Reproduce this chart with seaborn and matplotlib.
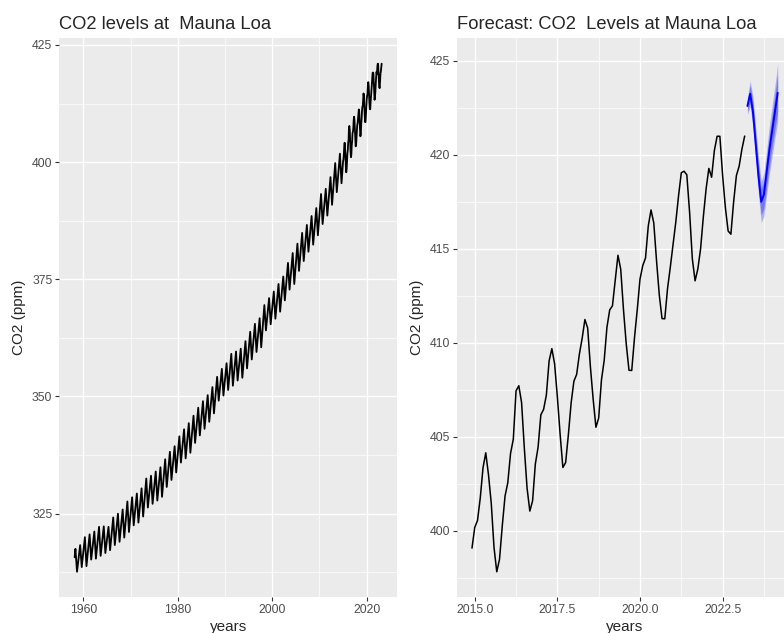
import numpy as np
import pandas as pd
import matplotlib
matplotlib.use("Agg")
import matplotlib.pyplot as plt
import seaborn as sns

# Mauna Loa CO2 (ppm), 1958-2014: yearly May peak and Sep trough
early_years = list(range(1958, 2015))
may_peak = [317.5, 318.3, 320.0, 320.6, 321.2, 322.2, 322.3, 322.2, 324.2, 325.0,
            325.9, 327.6, 328.5, 329.3, 330.4, 332.5, 333.1, 334.0, 334.9, 336.6,
            338.2, 339.4, 341.5, 343.0, 344.3, 345.9, 347.6, 349.0, 350.3, 352.0,
            354.2, 355.9, 357.1, 359.1, 359.6, 360.2, 361.8, 363.8, 365.5, 366.7,
            369.5, 371.0, 372.4, 374.0, 375.6, 378.5, 380.6, 382.6, 384.9, 386.6,
            388.5, 390.2, 393.2, 394.3, 396.8, 399.8, 401.8]
sep_trough = [312.6, 313.6, 313.8, 315.2, 315.4, 316.0, 316.6, 317.2, 318.3, 319.0,
              319.9, 321.1, 322.5, 323.1, 324.4, 326.3, 327.1, 327.8, 328.6, 330.7,
              332.2, 333.8, 335.9, 336.8, 338.0, 340.1, 341.7, 343.1, 344.6, 346.4,
              349.1, 350.2, 351.4, 352.3, 353.4, 354.0, 356.0, 357.9, 359.5, 360.5,
              364.1, 365.4, 366.6, 368.1, 370.5, 372.8, 374.0, 376.8, 378.9, 380.9,
              382.4, 384.4, 386.8, 388.6, 390.9, 393.6, 395.5]
first_month = 315.7  # March 1958

# monthly values Dec 2014 - Mar 2023
recent_co2 = [399.08,
              400.18, 400.55, 401.74, 403.35, 404.15, 402.97, 401.46, 399.11, 397.82, 398.49, 400.27, 401.85,
              402.56, 404.12, 404.87, 407.45, 407.72, 406.83, 404.41, 402.27, 401.05, 401.59, 403.55, 404.45,
              406.17, 406.46, 407.22, 409.04, 409.69, 408.88, 407.12, 405.13, 403.37, 403.63, 405.12, 406.81,
              407.96, 408.32, 409.41, 410.24, 411.24, 410.79, 408.71, 406.99, 405.51, 406.00, 408.02, 409.07,
              410.83, 411.75, 411.97, 413.32, 414.66, 413.92, 411.77, 409.95, 408.54, 408.53, 410.27, 411.76,
              413.39, 414.11, 414.51, 416.21, 417.07, 416.38, 414.38, 412.55, 411.29, 411.28, 412.89, 414.02,
              415.23, 416.43, 417.83, 419.05, 419.13, 418.94, 416.96, 414.47, 413.30, 413.93, 415.01, 416.71,
              418.19, 419.28, 418.81, 420.23, 420.99, 420.99, 418.90, 417.19, 415.95, 415.78, 417.51, 418.90,
              419.40, 420.30, 421.00]

# forecast Apr 2023 - Mar 2024
fc_mean = [422.6, 423.25, 422.3, 420.6, 418.9, 417.5, 417.9, 419.1, 420.3, 421.3, 422.3, 423.3]
fc_lo80 = [422.31, 422.8, 421.79, 420.02, 418.26, 416.8, 417.16, 418.33, 419.47, 420.44, 421.4, 422.31]
fc_hi80 = [422.89, 423.7, 422.81, 421.18, 419.54, 418.2, 418.64, 419.87, 421.13, 422.16, 423.2, 424.29]
fc_lo95 = [422.15, 422.55, 421.5, 419.7, 417.9, 416.4, 416.75, 417.9, 419.0, 419.95, 420.9, 421.75]
fc_hi95 = [423.05, 423.95, 423.1, 421.5, 419.9, 418.6, 419.05, 420.3, 421.6, 422.65, 423.7, 424.85]

# build tables (decimal time as in R ts objects)
t_early = [1958 + 2 / 12]
v_early = [first_month]
for yr, pk, tr in zip(early_years, may_peak, sep_trough):
    t_early += [yr + 4 / 12, yr + 8 / 12]
    v_early += [pk, tr]
t_recent = [2014 + 11 / 12 + i / 12 for i in range(len(recent_co2))]
full = pd.DataFrame({"years": t_early + t_recent, "co2": v_early + recent_co2})
recent = pd.DataFrame({"years": t_recent, "co2": recent_co2})
t_fc = [2023 + 3 / 12 + i / 12 for i in range(len(fc_mean))]
fc = pd.DataFrame({"years": t_fc, "mean": fc_mean, "lo80": fc_lo80, "hi80": fc_hi80,
                   "lo95": fc_lo95, "hi95": fc_hi95})

sns.set_theme(style="darkgrid", rc={
    "axes.facecolor": "#EBEBEB", "grid.color": "white", "axes.edgecolor": "#EBEBEB",
    "xtick.bottom": True, "ytick.left": True,
})
plt.rcParams["font.family"] = ["Liberation Sans", "DejaVu Sans"]


def expand(lo, hi):
    d = (hi - lo) * 0.05
    return lo - d, hi + d


def style_ax(ax, xmaj, xmin, ymaj, ymin, fmt):
    ax.set_xticks(xmaj)
    ax.set_xticks(xmin, minor=True)
    ax.set_yticks(ymaj)
    ax.set_yticks(ymin, minor=True)
    ax.set_xticklabels([fmt.format(v) for v in xmaj])
    ax.grid(which="major", color="white", linewidth=1.0)
    ax.grid(which="minor", color="white", linewidth=0.5)
    ax.tick_params(which="major", labelsize=8.8, labelcolor="#4D4D4D", color="#333333",
                   length=2.75, width=0.8, pad=2.2)
    ax.tick_params(which="minor", length=0)
    for s in ax.spines.values():
        s.set_visible(False)
    ax.set_axisbelow(True)


fig = plt.figure(figsize=(7.84, 6.33), dpi=100)
ax1 = fig.add_axes([59.3 / 784, 35.8 / 633, 337.7 / 784, 558.9 / 633])
ax2 = fig.add_axes([456.7 / 784, 35.8 / 633, 336.3 / 784, 558.9 / 633])

# left: full record
sns.lineplot(data=full, x="years", y="co2", ax=ax1, color="black", linewidth=1.3,
             sort=False, estimator=None)
ax1.set_xlim(*expand(full["years"].min(), full["years"].max()))
ax1.set_ylim(*expand(full["co2"].min(), full["co2"].max()))
style_ax(ax1, [1960, 1980, 2000, 2020], [1970, 1990, 2010],
         [325, 350, 375, 400, 425], [312.5, 337.5, 362.5, 387.5, 412.5], "{:.0f}")
ax1.set_title("CO2 levels at  Mauna Loa", loc="left", fontsize=13.2, pad=7)

# right: recent data + forecast
sns.lineplot(data=recent, x="years", y="co2", ax=ax2, color="black", linewidth=1.1,
             sort=False, estimator=None)
ax2.fill_between(fc["years"], fc["lo95"], fc["hi95"], color="blue", alpha=0.25, linewidth=0)
ax2.fill_between(fc["years"], fc["lo80"], fc["hi80"], color="blue", alpha=0.32, linewidth=0)
sns.lineplot(data=fc, x="years", y="mean", ax=ax2, color="blue", linewidth=1.4,
             sort=False, estimator=None)
ax2.set_xlim(*expand(recent["years"].min(), fc["years"].max()))
ax2.set_ylim(*expand(min(recent["co2"].min(), fc["lo95"].min()),
                     max(recent["co2"].max(), fc["hi95"].max())))
style_ax(ax2, [2015.0, 2017.5, 2020.0, 2022.5], [2016.25, 2018.75, 2021.25, 2023.75],
         [400, 405, 410, 415, 420, 425], [397.5, 402.5, 407.5, 412.5, 417.5, 422.5], "{:.1f}")
ax2.set_title("Forecast: CO2  Levels at Mauna Loa", loc="left", fontsize=13.2, pad=7)

for ax in (ax1, ax2):
    ax.set_xlabel("years", fontsize=11, labelpad=3)
    ax.set_ylabel("CO2 (ppm)", fontsize=11, labelpad=4)

fig.savefig("out.png", dpi=100)
